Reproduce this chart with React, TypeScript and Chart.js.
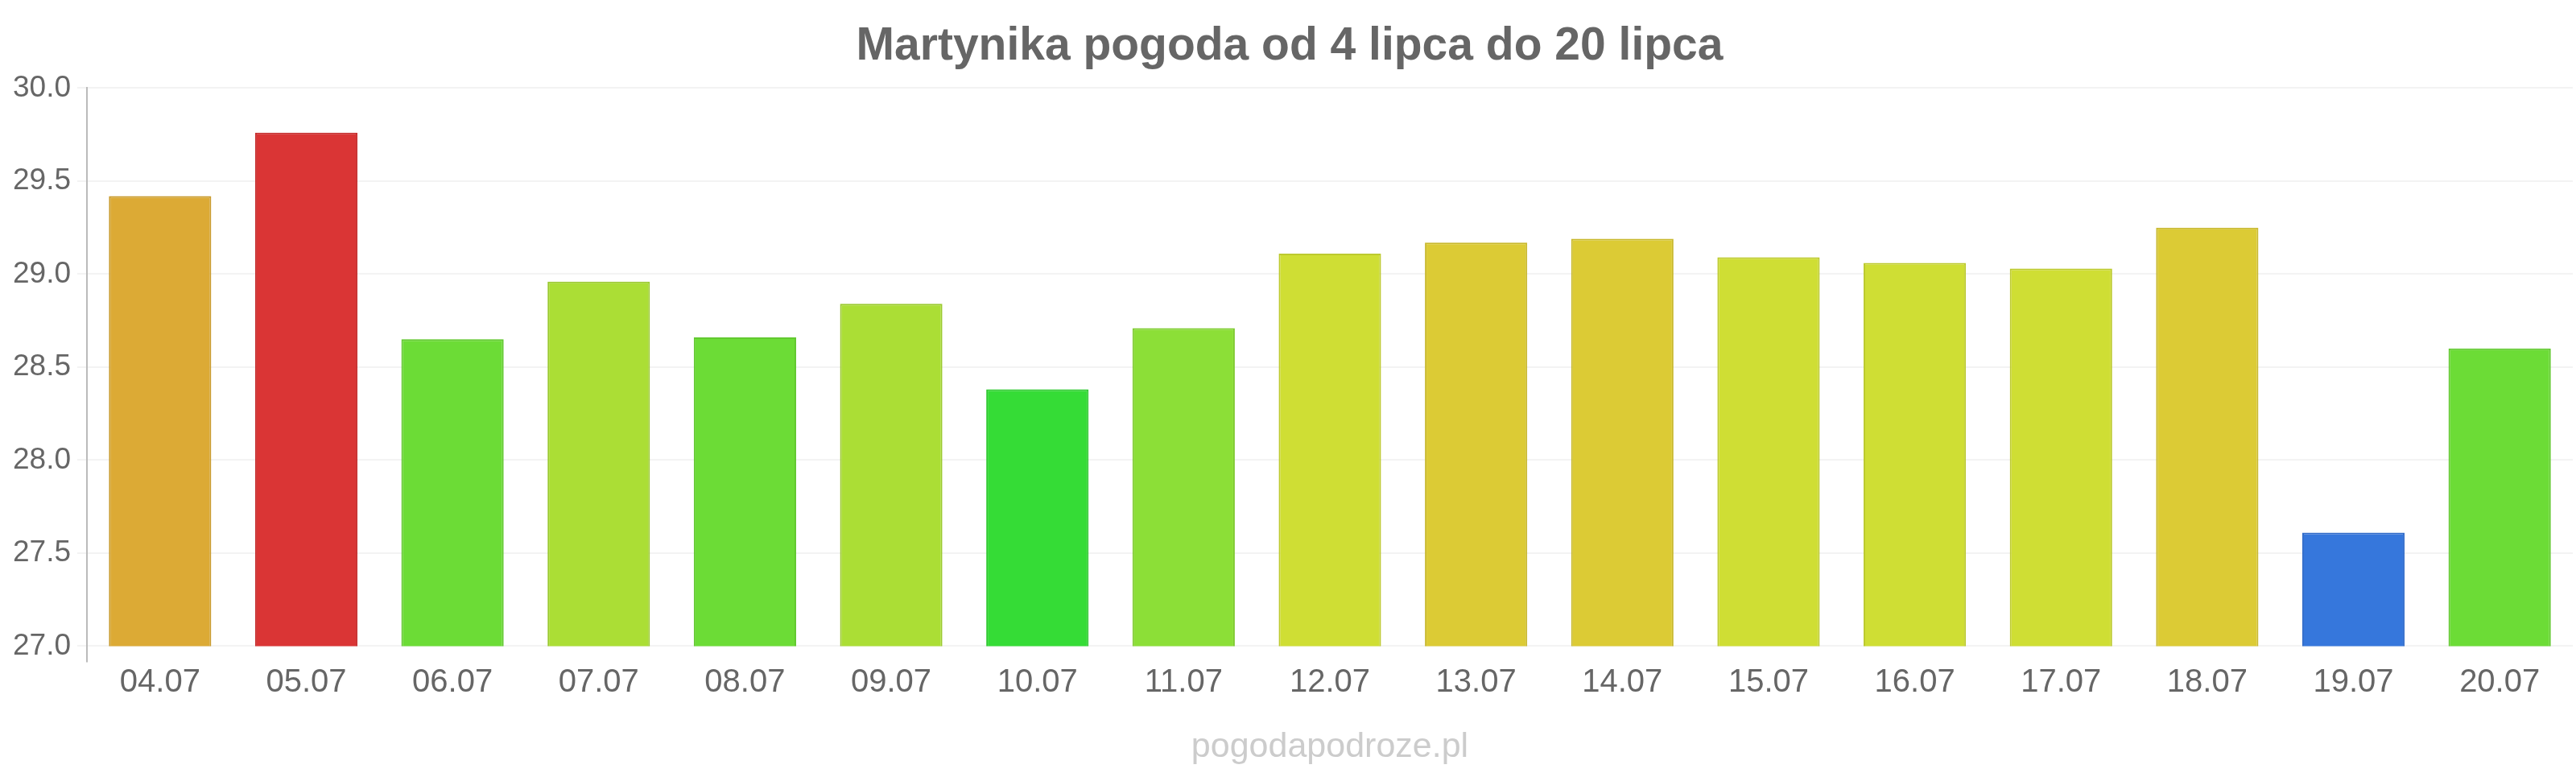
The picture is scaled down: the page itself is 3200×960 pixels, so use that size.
import React, { useEffect, useRef } from "react";
import { Chart, registerables } from "chart.js";

Chart.register(...registerables);

const titleText = "Martynika pogoda od 4 lipca do 20 lipca";
const watermark = "pogodapodroze.pl";
const categories = ["04.07", "05.07", "06.07", "07.07", "08.07", "09.07", "10.07", "11.07", "12.07", "13.07", "14.07", "15.07", "16.07", "17.07", "18.07", "19.07", "20.07"];
const temperatures = [29.42, 29.76, 28.65, 28.96, 28.66, 28.84, 28.38, 28.71, 29.11, 29.17, 29.19, 29.09, 29.06, 29.03, 29.25, 27.61, 28.6];
const barColors = ["#dcaa35", "#da3535", "#6cdc36", "#abde35", "#6cdc36", "#abde35", "#35dc36", "#8cdf37", "#cfde34", "#dccb35", "#dccb35", "#cfde34", "#cfde34", "#cfde34", "#dccb35", "#3677dc", "#6cdc36"];
const borderColors = ["#c99b2e", "#c72f2f", "#62c930", "#9bca30", "#62c930", "#9bca30", "#2fc930", "#7fcb31", "#bdca2f", "#c9b92f", "#c9b92f", "#bdca2f", "#bdca2f", "#bdca2f", "#c9b92f", "#306bc9", "#62c930"];
const yTicks = [27.0, 27.5, 28.0, 28.5, 29.0, 29.5, 30.0];

export default function App() {
  const ref = useRef<HTMLCanvasElement | null>(null);
  useEffect(() => {
    document.body.style.margin = "0";
    const font = "'Liberation Sans', Arial, sans-serif";
    const chart = new Chart(ref.current as HTMLCanvasElement, {
      type: "bar",
      data: {
        labels: categories,
        datasets: [
          {
            data: temperatures,
            backgroundColor: barColors,
            borderColor: borderColors,
            borderWidth: 2,
            categoryPercentage: 0.7,
            barPercentage: 1,
          },
        ],
      },
      options: {
        animation: false,
        responsive: true,
        maintainAspectRatio: false,
        layout: { padding: { left: 8, right: 4, top: 16, bottom: 6 } },
        plugins: {
          legend: { display: false },
          tooltip: { enabled: false },
          title: {
            display: true,
            text: titleText,
            color: "#666",
            font: { family: font, size: 57, weight: "bold" },
            padding: { top: 8, bottom: 17 },
          },
        },
        scales: {
          x: {
            border: { display: false },
            grid: {
              display: true,
              drawOnChartArea: false,
              tickLength: 20,
              lineWidth: 2,
              color: (ctx: any) => (ctx.index === 0 ? "#bbb" : "rgba(0,0,0,0)"),
            },
            ticks: { color: "#666", font: { family: font, size: 40 }, padding: 2 },
            title: {
              display: true,
              text: watermark,
              color: "#ccc",
              font: { family: font, size: 43 },
              padding: { top: 28, bottom: 0 },
            },
          },
          y: {
            min: 27,
            max: 30,
            afterBuildTicks: (axis: any) => {
              axis.ticks = yTicks.map((v) => ({ value: v }));
            },
            border: { display: true, color: "#bbb", width: 2 },
            grid: { color: "#f3f3f3", lineWidth: 2, tickLength: 12 },
            ticks: {
              color: "#666",
              font: { family: font, size: 37 },
              padding: 8,
              callback: (v: any) => Number(v).toFixed(1),
            },
          },
        },
      },
    });
    return () => chart.destroy();
  }, []);
  return (
    <div style={{ position: "relative", width: "3200px", height: "960px" }}>
      <canvas ref={ref} />
    </div>
  );
}
